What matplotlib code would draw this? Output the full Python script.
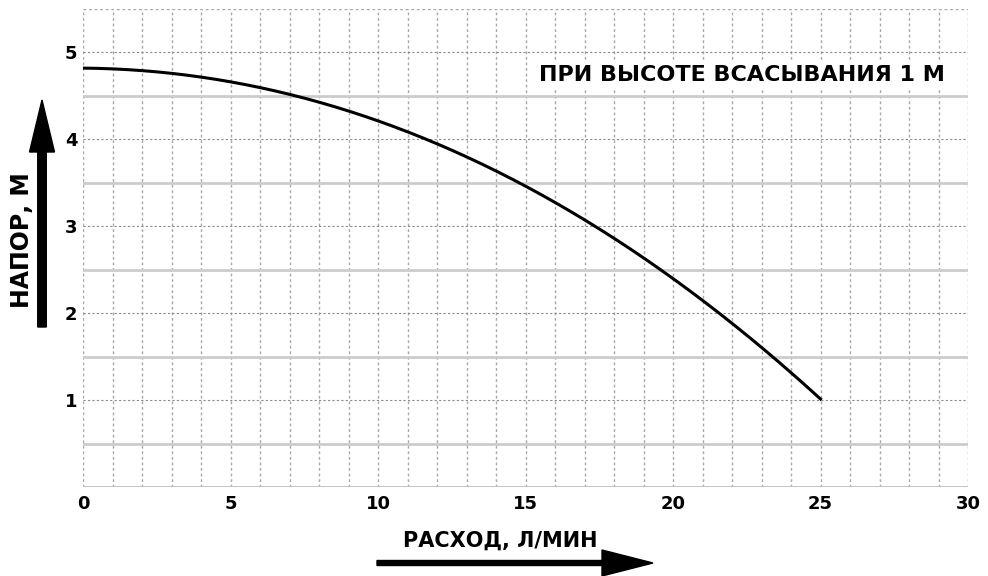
import matplotlib
matplotlib.use("Agg")
import matplotlib.pyplot as plt
import numpy as np

plt.rcParams['font.family'] = ['DejaVu Sans']

flow = [0, 2.5, 5, 7.5, 10, 12.5, 15, 17.5, 20, 22.5, 25]
head = [4.82, 4.78, 4.66, 4.47, 4.21, 3.87, 3.48, 2.98, 2.38, 1.74, 1.02]
x_ticks = [0, 5, 10, 15, 20, 25, 30]
y_ticks = [1, 2, 3, 4, 5]
note = "ПРИ ВЫСОТЕ ВСАСЫВАНИЯ 1 М"
ylabel = "НАПОР, М"
xlabel = "РАСХОД, Л/МИН"

fig = plt.figure(figsize=(9.88, 5.76), dpi=100)
ax = fig.add_axes([83/988, 1-487/576, 885/988, 478/576])
ax.set_xlim(0, 30)
ax.set_ylim(0, 5.5)

for xv in range(0, 31):
    ax.axvline(xv, color='#a8a8a8', lw=1.0, ls=(0, (2, 2)), zorder=1)
for yv in range(1, 6):
    ax.axhline(yv, color='#8a8a8a', lw=0.8, ls=(0, (2, 2)), zorder=1)
for yv in [0.5, 1.5, 2.5, 3.5, 4.5]:
    ax.axhline(yv, color='#cccccc', lw=2.0, zorder=1)
ax.axhline(0, color='#c0c0c0', lw=2.0, zorder=1)
ax.axhline(5.5, color='#a8a8a8', lw=1.0, ls=(0, (2, 2)), zorder=1)

for s in ax.spines.values():
    s.set_visible(False)

c = np.polyfit(flow, head, 3)
xs = np.linspace(flow[0], flow[-1], 200)
ax.plot(xs, np.polyval(c, xs), color='black', lw=2.2, zorder=3)

ax.set_xticks(x_ticks)
ax.set_yticks(y_ticks)
ax.set_xticklabels([str(v) for v in x_ticks], fontsize=13, fontweight='bold')
ax.set_yticklabels([str(v) for v in y_ticks], fontsize=13, fontweight='bold')
ax.tick_params(axis='x', length=0, pad=6)
ax.tick_params(axis='y', length=0, pad=4)

ax.text((945 - 83) / 885, (487 - 75) / 478, note, transform=ax.transAxes,
        ha='right', va='center', fontsize=16, fontweight='bold',
        bbox=dict(facecolor='white', edgecolor='none', pad=2), zorder=4)

# y arrow
fig.patches.append(matplotlib.patches.FancyArrow(
    42/988, 1-327/576, 0, (327-100)/576, width=5/576, head_width=25/988,
    head_length=52/576, length_includes_head=True, color='black',
    transform=fig.transFigure, figure=fig))
fig.text(22/988, 1-240/576, ylabel, rotation=90, ha='center', va='center',
         fontsize=17, fontweight='bold')

# x arrow
fig.patches.append(matplotlib.patches.FancyArrow(
    377/988, 1-563/576, (653-377)/988, 0, width=5/576, head_width=26/576,
    head_length=51/988, length_includes_head=True, color='black',
    transform=fig.transFigure, figure=fig))
fig.text(500/988, 1-541/576, xlabel, ha='center', va='center',
         fontsize=15, fontweight='bold')

fig.savefig('out.png', dpi=100)
